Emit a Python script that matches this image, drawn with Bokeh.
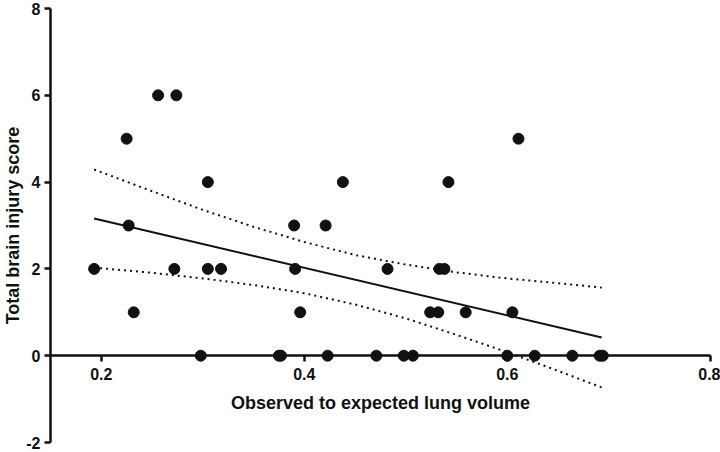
from bokeh.plotting import figure
from bokeh.models import FixedTicker, Range1d
from bokeh.embed import file_html
from bokeh.resources import INLINE

# Data
obs_x = [0.193, 0.225, 0.227, 0.232, 0.256, 0.274, 0.272, 0.298, 0.305, 0.305,
         0.318, 0.375, 0.377, 0.390, 0.391, 0.396, 0.421, 0.423, 0.438, 0.471,
         0.482, 0.498, 0.507, 0.524, 0.532, 0.533, 0.538, 0.542, 0.559, 0.600,
         0.605, 0.611, 0.627, 0.664, 0.691, 0.694]
score = [2, 5, 3, 1, 6, 6, 2, 0, 4, 2,
         2, 0, 0, 3, 2, 1, 3, 0, 4, 0,
         2, 0, 0, 1, 1, 2, 2, 4, 1, 0,
         1, 5, 0, 0, 0, 0]

fit_x = [0.193, 0.693]
fit_y = [3.16, 0.42]

band_x = [0.193, 0.25, 0.30, 0.35, 0.40, 0.45, 0.50, 0.55, 0.60, 0.65, 0.693]
band_upper = [4.29, 3.79, 3.36, 2.97, 2.62, 2.32, 2.10, 1.92, 1.78, 1.67, 1.57]
band_lower = [2.03, 1.91, 1.78, 1.63, 1.44, 1.18, 0.86, 0.48, 0.08, -0.35, -0.73]

x_ticks = [0.2, 0.4, 0.6, 0.8]
y_ticks = [-2, 0, 2, 4, 6, 8]
y_tick_labels = {-2: "-2", 0: "0", 2: "2", 4: "4", 6: "6", 8: "8"}

FONT = "Liberation Sans"

p = figure(width=720, height=452, output_backend="svg", toolbar_location=None,
           x_range=Range1d(0.15, 0.81), y_range=Range1d(-2, 8),
           min_border_left=0, min_border_right=0, min_border_top=8,
           min_border_bottom=10)
p.outline_line_color = None
p.xgrid.visible = False
p.ygrid.visible = False
p.background_fill_color = "white"

for ax in (p.xaxis[0], p.yaxis[0]):
    ax.axis_line_width = 2.5
    ax.axis_line_color = "#111111"
    ax.major_tick_line_width = 2.5
    ax.major_tick_line_color = "#111111"
    ax.major_tick_out = 6
    ax.major_tick_in = 0
    ax.minor_tick_line_color = None
    ax.major_label_text_font = FONT
    ax.major_label_text_font_style = "bold"
    ax.major_label_text_font_size = "16px"
    ax.major_label_text_color = "#111111"
    ax.axis_label_text_font = FONT
    ax.axis_label_text_font_style = "bold"
    ax.axis_label_text_font_size = "18px"
    ax.axis_label_text_color = "#111111"

p.xaxis[0].ticker = FixedTicker(ticks=x_ticks)
p.yaxis[0].ticker = FixedTicker(ticks=y_ticks)
p.yaxis[0].major_label_overrides = y_tick_labels
p.xaxis[0].bounds = (0.15, 0.8)
p.xaxis[0].fixed_location = 0
p.xaxis[0].axis_label = "Observed to expected lung volume"
p.yaxis[0].axis_label = "Total brain injury score"
p.xaxis[0].major_label_standoff = 6
p.xaxis[0].axis_label_standoff = 10
p.yaxis[0].major_label_standoff = 4
p.yaxis[0].axis_label_standoff = 0

p.line(band_x, band_upper, line_color="#111111", line_width=2, line_dash="2 4")
p.line(band_x, band_lower, line_color="#111111", line_width=2, line_dash="2 4")
p.line(fit_x, fit_y, line_color="#111111", line_width=2)
p.scatter(obs_x, score, size=11, fill_color="#111111", line_color="#111111")

open("out.html", "w").write(file_html(p, INLINE))
